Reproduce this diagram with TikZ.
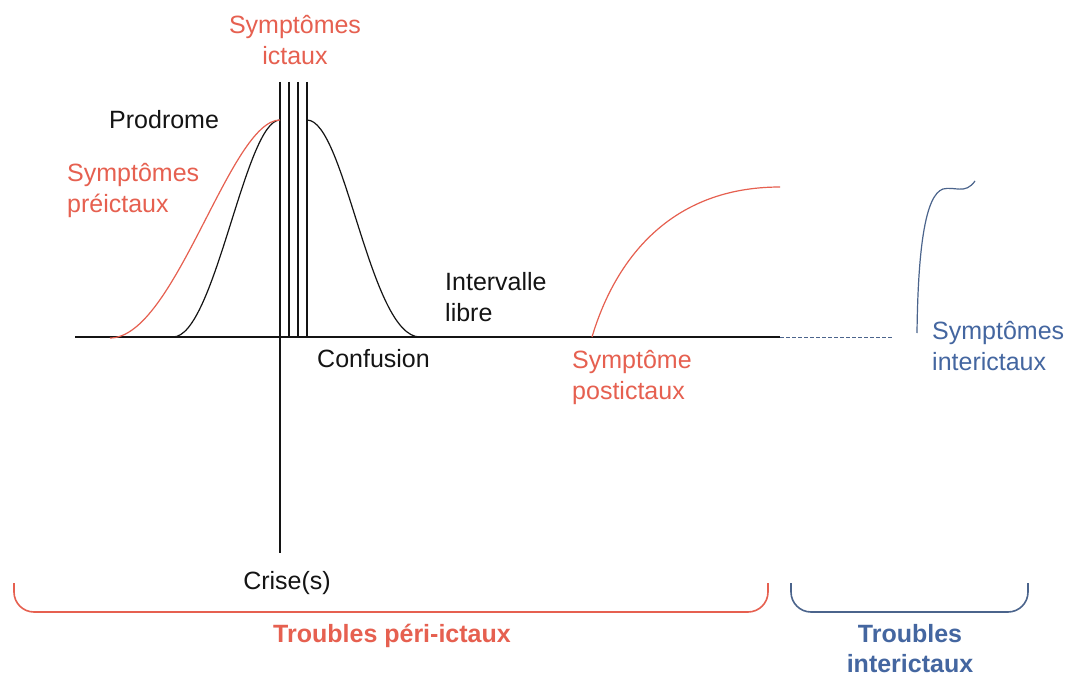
\documentclass[tikz,border=0pt]{standalone}
\usepackage{fontspec}
\setmainfont{Liberation Sans}
\definecolor{redc}{RGB}{230,96,80}
\definecolor{bluec}{RGB}{68,102,160}
\definecolor{braceblue}{RGB}{75,100,140}
\definecolor{ink}{RGB}{20,20,20}
\begin{document}
\begin{tikzpicture}[x=1pt,y=-1pt,
  lbl/.style={inner sep=0pt, font=\fontsize{25}{31}\selectfont, align=left},
  curve/.style={line width=1.2pt},
  bracestyle/.style={line width=1.6pt, rounded corners=20pt}]
\path[use as bounding box, fill=white] (0,0) rectangle (1079,679);

% axes
\coordinate (axL) at (75,337);
\coordinate (axR) at (780,337);
\coordinate (dashR) at (893,337);
\coordinate (critTop) at (280,82);
\coordinate (critBot) at (280,553);
\draw[ink, line width=1.3pt] (axL) -- (axR);
\draw[braceblue, line width=1pt, dash pattern=on 4pt off 2pt] (axR) -- (dashR);
\draw[ink, line width=1.3pt] (critTop) -- (critBot);
\foreach \xx in {289,298,307} \draw[ink, line width=1.3pt] (\xx,82) -- (\xx,337);

% curves
\draw[ink, curve] (173,337) .. controls (215,337) and (245,120) .. (280,120);
\draw[ink, curve] (307,120) .. controls (345,120) and (370,337) .. (420,337);
\draw[redc, curve] (110,338) .. controls (175,338) and (230,120) .. (280,120);
\draw[redc, curve] (592,337) .. controls (615,260) and (670,187) .. (780,187);
\draw[braceblue, curve] (917,333) .. controls (918,250) and (925,195) .. (943,189)
   .. controls (955,186) and (965,195) .. (975,181);

% labels (base anchor of multi-line nodes = baseline of last line)
\node[lbl, redc, align=center, anchor=base] (ictaux) at (295,65) {Symptômes\\ictaux};
\node[lbl, ink, anchor=base west] (prodrome) at (109,129) {Prodrome};
\node[lbl, redc, anchor=base west] (preictaux) at (67,213) {Symptômes\\préictaux};
\node[lbl, ink, anchor=base west] (intervalle) at (445,321) {Intervalle\\libre};
\node[lbl, ink, anchor=base west] (confusion) at (317,367) {Confusion};
\node[lbl, redc, anchor=base west] (postictaux) at (572,399) {Symptôme\\postictaux};
\node[lbl, bluec, anchor=base west] (interictaux) at (932,370) {Symptômes\\interictaux};
\node[lbl, ink, anchor=base] (crise) at (287,589) {Crise(s)};

% braces
\draw[redc, bracestyle] (14,583) -- (14,612) -- (768,612) -- (768,583);
\draw[braceblue, bracestyle] (791,583) -- (791,612) -- (1028,612) -- (1028,583);
\node[lbl, redc, anchor=base, font=\fontsize{25}{31}\selectfont\bfseries] (peri) at (392,642) {Troubles péri-ictaux};
\node[lbl, bluec, align=center, anchor=base, font=\fontsize{25}{30}\selectfont\bfseries] (inter) at (910,672) {Troubles\\interictaux};
\end{tikzpicture}
\end{document}
